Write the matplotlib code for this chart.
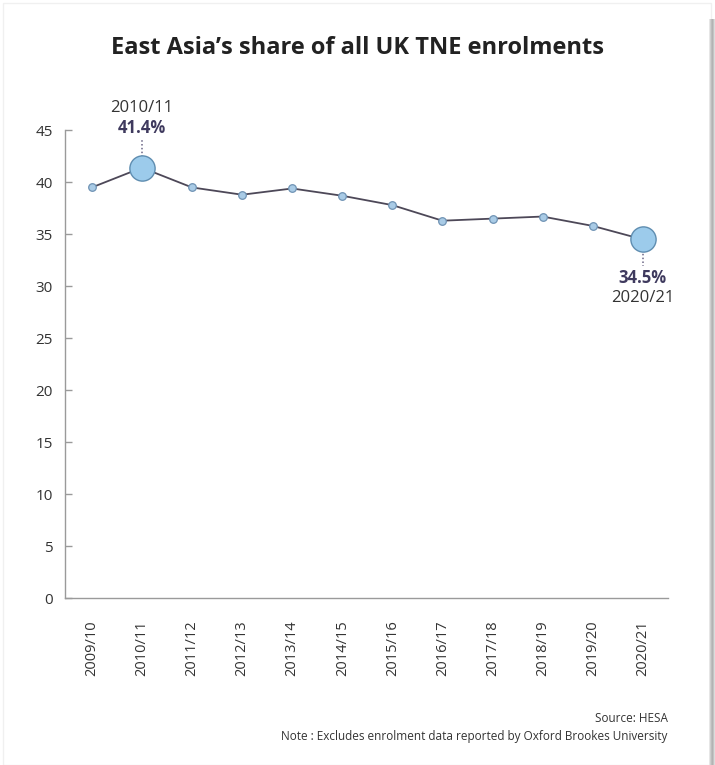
import matplotlib
matplotlib.use("Agg")
import matplotlib.pyplot as plt
from matplotlib.patches import Rectangle

# 数据
years = ["2009/10", "2010/11", "2011/12", "2012/13", "2013/14", "2014/15",
         "2015/16", "2016/17", "2017/18", "2018/19", "2019/20", "2020/21"]
share = [39.5, 41.4, 39.5, 38.8, 39.4, 38.7, 37.8, 36.3, 36.5, 36.7, 35.8, 34.5]
y_ticks = [0, 5, 10, 15, 20, 25, 30, 35, 40, 45]
highlight = [1, 11]

title = "East Asia\u2019s share of all UK TNE enrolments"
source = "Source: HESA"
note = "Note : Excludes enrolment data reported by Oxford Brookes University"

plt.rcParams['font.family'] = ['Open Sans', 'DejaVu Sans']

fig = plt.figure(figsize=(7.15, 7.65), dpi=100)
ax = fig.add_axes([0.0913, 0.2183, 0.8427, 0.6114])

x = list(range(len(years)))
ax.plot(x, share, color="#4d4858", lw=1.3, zorder=2)
ax.scatter(x, share, s=30, color="#a9cbe6", edgecolor="#6f93b4", lw=0.9, zorder=3)
ax.scatter([x[i] for i in highlight], [share[i] for i in highlight],
           s=330, color="#9ccbeb", edgecolor="#5f8db0", lw=1.0, zorder=4)

# 标注
lab_col = "#3f3a5e"
i = highlight[0]
ax.plot([x[i], x[i]], [share[i] + 1.0, share[i] + 2.8], ls=(0, (1, 1.5)), color="#6a6585", lw=1.1)
ax.text(x[i], share[i] + 3.0, f"{share[i]}%", ha="center", va="bottom",
        fontsize=12, fontweight="bold", color=lab_col)
ax.text(x[i], share[i] + 5.0, years[i], ha="center", va="bottom", fontsize=12, color="#333333")
i = highlight[1]
ax.plot([x[i], x[i]], [share[i] - 1.0, share[i] - 2.6], ls=(0, (1, 1.5)), color="#6a6585", lw=1.1)
ax.text(x[i], share[i] - 2.8, f"{share[i]}%", ha="center", va="top",
        fontsize=12, fontweight="bold", color=lab_col)
ax.text(x[i], share[i] - 4.9, years[i], ha="center", va="top", fontsize=12, color="#333333")

ax.set_xlim(-0.53, 11.5)
ax.set_ylim(0, 45)
ax.set_yticks(y_ticks)
ax.set_xticks(x)
ax.set_xticklabels(years, rotation=90)
for s in ["top", "right"]:
    ax.spines[s].set_visible(False)
for s in ["left", "bottom"]:
    ax.spines[s].set_color("#9a9a9a")
    ax.spines[s].set_linewidth(1.0)
ax.tick_params(axis="y", direction="in", length=5, width=1, color="#9a9a9a",
               pad=9, labelsize=11, labelcolor="#333333")
ax.tick_params(axis="x", length=0, pad=16, labelsize=10.5, labelcolor="#333333")

fig.text(0.5, 0.937, title, ha="center", va="center", fontsize=17, fontweight="bold", color="#222222")
fig.text(0.934, 0.0605, source, ha="right", va="center", fontsize=8.5, color="#333333")
fig.text(0.934, 0.0375, note, ha="right", va="center", fontsize=8.5, color="#333333")

# 边框和阴影
fig.patches.append(Rectangle((0.004, 0.0), 0.99, 0.996, transform=fig.transFigure,
                             fill=False, edgecolor="#f0f0f0", lw=1.0))
shades = ["#e6e6e6", "#cfcfcf", "#bdbdbd", "#b3b3b3", "#c4c4c4", "#dcdcdc"]
for k, c in enumerate(shades):
    fig.patches.append(Rectangle((709 / 715 + k / 715, 0.0), 1 / 715, 0.975,
                                 transform=fig.transFigure, color=c, lw=0))

fig.savefig("out.png", dpi=100)
